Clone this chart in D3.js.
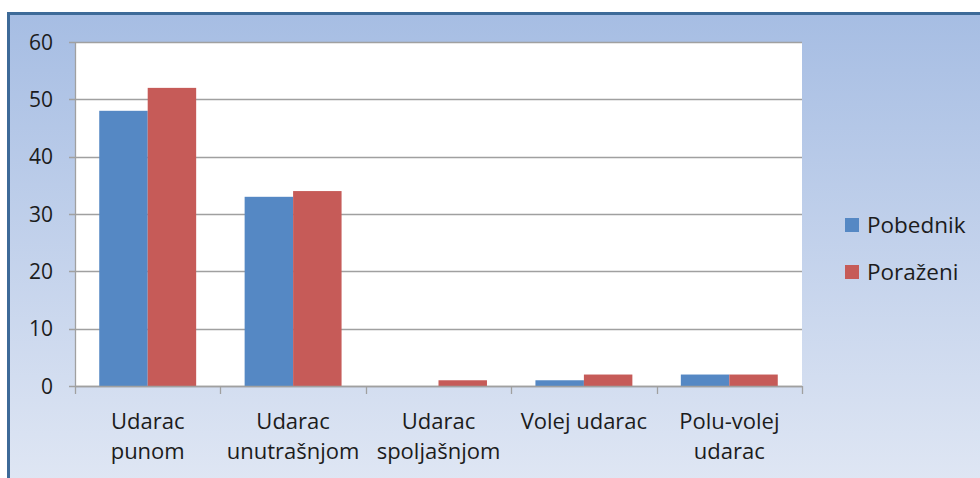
<!DOCTYPE html>
<html>
<head>
<meta charset="utf-8">
<script src="https://cdn.jsdelivr.net/npm/d3@7/dist/d3.min.js"></script>
<style>
  body { margin: 0; background: #fff; }
  svg { display: block; }
  text { font-family: "Open Sans", sans-serif; fill: #1c1c1c; }
</style>
</head>
<body>
<div id="container"></div>
<script>
const categories = [
  ["Udarac", "punom"],
  ["Udarac", "unutrašnjom"],
  ["Udarac", "spoljašnjom"],
  ["Volej udarac"],
  ["Polu-volej", "udarac"]
];
const seriesNames = ["Pobednik", "Poraženi"];
const pobednik = [48, 33, 0, 1, 2];
const porazeni = [52, 34, 1, 2, 2];
const yTicks = [0, 10, 20, 30, 40, 50, 60];
const colors = ["#5588c4", "#c65b58"];

const w = 980;
const h = 478;
const plot = { left: 75, right: 802, top: 42, bottom: 386 };

const svg = d3
  .select("#container")
  .append("svg")
  .attr("width", w)
  .attr("height", h);

const defs = svg.append("defs");
const grad = defs
  .append("linearGradient")
  .attr("id", "bg")
  .attr("x1", 0).attr("y1", 0)
  .attr("x2", 0).attr("y2", 1);
grad.append("stop").attr("offset", "0%").attr("stop-color", "#a6bde3");
grad.append("stop").attr("offset", "100%").attr("stop-color", "#e0e7f4");

// chart frame
svg
  .append("rect")
  .attr("x", 8)
  .attr("y", 13)
  .attr("width", w)
  .attr("height", h)
  .attr("fill", "url(#bg)");
svg.append("line")
  .attr("x1", 8).attr("x2", w).attr("y1", 13.5).attr("y2", 13.5)
  .attr("stroke", "#3d6a98").attr("stroke-width", 3);
svg.append("line")
  .attr("x1", 8.5).attr("x2", 8.5).attr("y1", 12).attr("y2", h)
  .attr("stroke", "#3d6a98").attr("stroke-width", 3);

svg
  .append("rect")
  .attr("x", plot.left)
  .attr("y", plot.top)
  .attr("width", plot.right - plot.left)
  .attr("height", plot.bottom - plot.top)
  .attr("fill", "#fff");

const xScale = d3
  .scaleBand()
  .domain(d3.range(categories.length))
  .range([plot.left, plot.right])
  .paddingInner(0)
  .paddingOuter(0);

const xInner = d3
  .scaleBand()
  .domain(d3.range(seriesNames.length))
  .range([0, xScale.bandwidth()])
  .paddingOuter(0.5)
  .paddingInner(0);

const yScale = d3
  .scaleLinear()
  .domain([0, 60])
  .range([plot.bottom, plot.top]);

// gridlines
svg
  .append("g")
  .selectAll("line")
  .data(yTicks)
  .enter()
  .append("line")
  .attr("x1", plot.left - 6)
  .attr("x2", plot.right)
  .attr("y1", (d) => Math.round(yScale(d)) + 0.5)
  .attr("y2", (d) => Math.round(yScale(d)) + 0.5)
  .attr("stroke", "#a0a0a0")
  .attr("stroke-width", 1.3);

const groups = svg
  .append("g")
  .selectAll("g")
  .data(categories.map((c, i) => [pobednik[i], porazeni[i]]))
  .enter()
  .append("g")
  .attr("transform", (d, i) => "translate(" + xScale(i) + ",0)");

groups
  .selectAll("rect")
  .data((d) => d)
  .enter()
  .append("rect")
  .attr("x", (d, j) => xInner(j))
  .attr("y", (d) => yScale(d))
  .attr("width", xInner.bandwidth())
  .attr("height", (d) => yScale(0) - yScale(d))
  .attr("fill", (d, j) => colors[j]);

// y axis line
svg.append("line")
  .attr("x1", plot.left + 0.5).attr("x2", plot.left + 0.5)
  .attr("y1", plot.top).attr("y2", plot.bottom)
  .attr("stroke", "#a0a0a0").attr("stroke-width", 1.3);

// x axis line + ticks
const xAxis = svg.append("g");
xAxis.append("line")
  .attr("x1", plot.left).attr("x2", plot.right)
  .attr("y1", Math.round(plot.bottom) + 0.5).attr("y2", Math.round(plot.bottom) + 0.5)
  .attr("stroke", "#a0a0a0").attr("stroke-width", 1.3);
xAxis
  .selectAll("line.tick")
  .data(d3.range(categories.length + 1))
  .enter()
  .append("line")
  .attr("class", "tick")
  .attr("x1", (d) => Math.round(plot.left + d * xScale.bandwidth()) + 0.5)
  .attr("x2", (d) => Math.round(plot.left + d * xScale.bandwidth()) + 0.5)
  .attr("y1", plot.bottom)
  .attr("y2", plot.bottom + 8)
  .attr("stroke", "#a0a0a0")
  .attr("stroke-width", 1.3);

// y tick labels
svg
  .append("g")
  .selectAll("text")
  .data(yTicks)
  .enter()
  .append("text")
  .attr("x", 53)
  .attr("y", (d) => yScale(d))
  .attr("dy", "0.36em")
  .attr("text-anchor", "end")
  .style("font-size", "21px")
  .text((d) => d);

// category labels
const catLabels = svg
  .append("g")
  .selectAll("text")
  .data(categories)
  .enter()
  .append("text")
  .attr("text-anchor", "middle")
  .attr("x", (d, i) => xScale(i) + xScale.bandwidth() / 2)
  .attr("y", 429)
  .style("font-size", "22px");
catLabels
  .selectAll("tspan")
  .data((d) => d)
  .enter()
  .append("tspan")
  .attr("x", function () { return this.parentNode.getAttribute("x"); })
  .attr("dy", (d, k) => (k === 0 ? 0 : 30))
  .text((d) => d);

// legend
const legend = svg
  .append("g")
  .selectAll("g")
  .data(seriesNames)
  .enter()
  .append("g")
  .attr("transform", (d, i) => "translate(845," + (218 + i * 47) + ")");
legend
  .append("rect")
  .attr("width", 14)
  .attr("height", 14)
  .attr("fill", (d, i) => colors[i]);
legend
  .append("text")
  .attr("x", 22)
  .attr("y", 15)
  .style("font-size", "22.5px")
  .text((d) => d);
</script>
</body>
</html>
